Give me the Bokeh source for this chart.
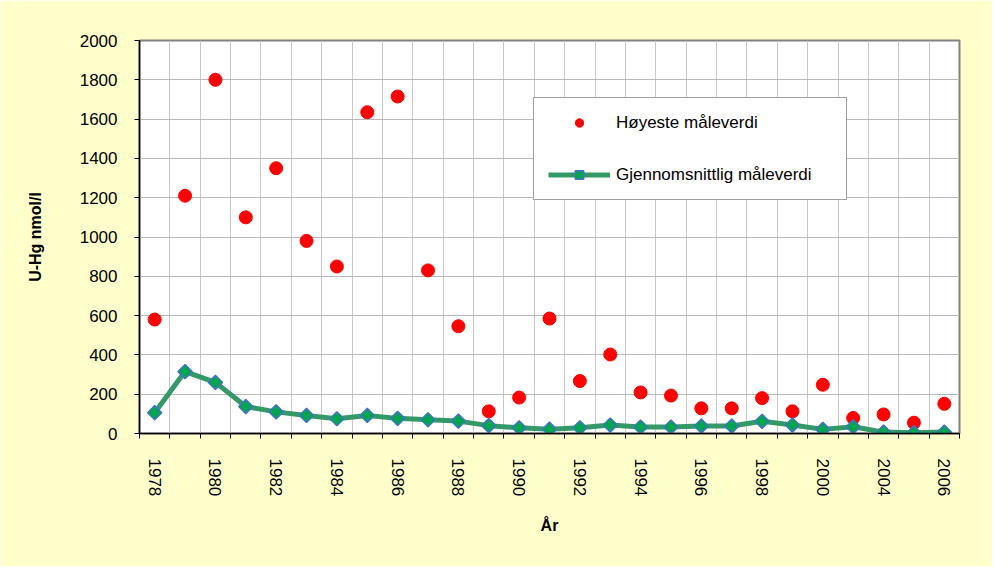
import math
from bokeh.plotting import figure
from bokeh.models import Range1d, FixedTicker, Legend, LegendItem, ColumnDataSource
from bokeh.embed import file_html
from bokeh.resources import INLINE

years = ["1978", "1979", "1980", "1981", "1982", "1983", "1984", "1985", "1986", "1987",
         "1988", "1989", "1990", "1991", "1992", "1993", "1994", "1995", "1996", "1997",
         "1998", "1999", "2000", "2002", "2004", "2005", "2006"]
highest = [580, 1210, 1800, 1100, 1350, 980, 850, 1635, 1715, 830,
           546, 113, 183, 585, 267, 402, 209, 193, 128, 128,
           180, 113, 248, 79, 97, 55, 151]
average = [106, 315, 260, 137, 110, 92, 75, 92, 77, 70,
           63, 40, 29, 22, 29, 43, 33, 33, 38, 38,
           62, 43, 21, 34, 7, 4, 7]
y_ticks = [0, 200, 400, 600, 800, 1000, 1200, 1400, 1600, 1800, 2000]
label_every = 2

idx = list(range(len(years)))
src = ColumnDataSource(dict(x=idx, year=years, hi=highest, avg=average))

FONT = "Liberation Sans"

p = figure(width=992, height=566, output_backend="svg", toolbar_location=None,
           x_range=Range1d(-0.5, len(years) - 0.5), y_range=Range1d(0, 2000),
           min_border_left=139, min_border_right=33, min_border_top=40, min_border_bottom=133)

p.border_fill_color = "#FFFFCC"
p.background_fill_color = "white"
p.outline_line_color = "#808080"
p.outline_line_width = 2

# x axis ticks: labels at every other category, tick marks/grid at boundaries
major = [i for i in idx if i % label_every == 0]
minor = [i - 0.5 for i in idx] + [len(years) - 0.5]
p.xaxis.ticker = FixedTicker(ticks=major, minor_ticks=minor)
p.xaxis.major_label_overrides = {i: years[i] for i in major}
p.xaxis.major_tick_line_color = None
p.xaxis.minor_tick_line_color = "black"
p.xaxis.minor_tick_in = 0
p.xaxis.minor_tick_out = 5
p.xaxis.major_label_orientation = -math.pi / 2
p.xaxis.major_label_standoff = 19
p.xaxis.axis_label = "År"
p.xaxis.axis_label_standoff = 18

p.yaxis.ticker = FixedTicker(ticks=y_ticks)
p.yaxis.minor_tick_line_color = None
p.yaxis.major_tick_in = 0
p.yaxis.major_tick_out = 5
p.yaxis.major_tick_line_color = "black"
p.yaxis.major_label_standoff = 17
p.yaxis.axis_label = "U-Hg nmol/l"
p.yaxis.axis_label_standoff = 33

for ax in (p.xaxis, p.yaxis):
    ax.axis_line_color = "black"
    ax.axis_line_width = 1.5
    ax.major_label_text_font = FONT
    ax.major_label_text_font_size = "17px"
    ax.major_label_text_color = "black"
    ax.axis_label_text_font = FONT
    ax.axis_label_text_font_size = "16px"
    ax.axis_label_text_font_style = "bold"
    ax.axis_label_text_color = "black"

p.xgrid.grid_line_color = None
p.xgrid.minor_grid_line_color = "#C8C8C8"
p.xgrid.minor_grid_line_width = 1
p.ygrid.grid_line_color = "#B8B8B8"
p.ygrid.grid_line_width = 1

r_hi = p.scatter("x", "hi", source=src, size=13, marker="circle",
                 fill_color="#FF0000", line_color="#FF0000")
r_line = p.line("x", "avg", source=src, line_color="#339966", line_width=5)
r_dia = p.scatter("x", "avg", source=src, marker="square", angle=math.pi / 4, size=10,
                  fill_color="#00A550", line_color="#4472C4", line_width=1.5)

legend = Legend(items=[LegendItem(label="Høyeste måleverdi", renderers=[r_hi]),
                       LegendItem(label="Gjennomsnittlig måleverdi", renderers=[r_line, r_dia])],
                location=(394, 233))
legend.padding = 14
legend.margin = 0
legend.spacing = 31
legend.label_height = 21
legend.glyph_height = 21
legend.glyph_width = 62
legend.label_standoff = 6
legend.label_width = 216
legend.label_text_font = FONT
legend.label_text_font_size = "17px"
legend.label_text_color = "black"
legend.border_line_color = "#404040"
legend.border_line_width = 1
legend.background_fill_color = "white"
legend.background_fill_alpha = 1
p.add_layout(legend, "center")

open("out.html", "w").write(file_html(p, INLINE))
